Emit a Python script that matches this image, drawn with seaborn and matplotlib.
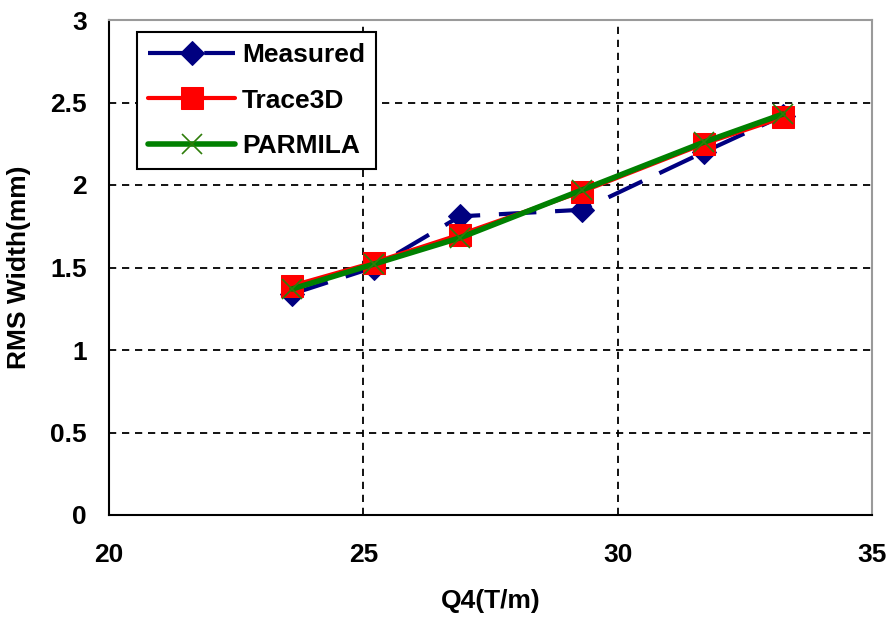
import matplotlib
matplotlib.use("Agg")
import matplotlib.pyplot as plt
import seaborn as sns
import pandas as pd

# Q4 gradient settings (T/m) and RMS beam widths (mm)
q4 = [23.6, 25.2, 26.9, 29.3, 31.7, 33.25]
measured = [1.34, 1.50, 1.81, 1.85, 2.20, 2.42]
trace3d = [1.39, 1.53, 1.70, 1.96, 2.25, 2.41]
parmila = [1.37, 1.52, 1.68, 1.97, 2.26, 2.43]

x_ticks = [20, 25, 30, 35]
y_ticks = [0, 0.5, 1, 1.5, 2, 2.5, 3]
y_tick_labels = ["0", "0.5", "1", "1.5", "2", "2.5", "3"]

sns.set_style("white")
plt.rcParams["font.family"] = ["Liberation Sans", "DejaVu Sans"]
plt.rcParams["font.weight"] = "bold"
plt.rcParams["text.color"] = "black"
plt.rcParams["axes.labelcolor"] = "black"

df = pd.DataFrame({"Q4": q4, "Measured": measured,
                   "Trace3D": trace3d, "PARMILA": parmila})

fig = plt.figure(figsize=(8.89, 6.24), dpi=100)
ax = fig.add_axes([109 / 889, 1 - 515 / 624, (872 - 109) / 889, (515 - 20) / 624])

sns.lineplot(data=df, x="Q4", y="Measured", ax=ax, color="#000080",
             linewidth=3, marker="D", markersize=12, markeredgecolor="#000080",
             label="Measured", zorder=3)
sns.lineplot(data=df, x="Q4", y="Trace3D", ax=ax, color="#FF0000",
             linewidth=3, marker="s", markersize=15.5, markeredgecolor="#FF0000",
             label="Trace3D", zorder=4)
sns.lineplot(data=df, x="Q4", y="PARMILA", ax=ax, color="#008000",
             linewidth=4, marker="x", markersize=15, markeredgewidth=1.2,
             markeredgecolor="#2E7D0A", label="PARMILA", zorder=5)

# long-dash pattern for the measured series
ax.lines[0].set_dashes([9, 4.5])
ax.lines[0].set_dash_capstyle("butt")

ax.set_xlim(20, 35)
ax.set_ylim(0, 3)
ax.set_xticks(x_ticks)
ax.set_yticks(y_ticks)
ax.set_yticklabels(y_tick_labels)
ax.tick_params(axis="both", direction="in", length=5, width=1.2, color="black",
               labelsize=19, labelcolor="black")
ax.tick_params(axis="x", pad=20)
ax.tick_params(axis="y", pad=16)

ax.grid(True, color="black", linestyle=(0, (4, 3.2)), linewidth=1.3)
ax.set_axisbelow(True)

for side in ["left", "bottom"]:
    ax.spines[side].set_color("black")
    ax.spines[side].set_linewidth(1.5)
for side in ["top", "right"]:
    ax.spines[side].set_color("#9a9a9a")
    ax.spines[side].set_linewidth(1.5)

ax.set_xlabel("Q4(T/m)", fontsize=19, fontweight="bold", labelpad=16)
ax.set_ylabel("RMS Width(mm)", fontsize=19, fontweight="bold", labelpad=14)

leg = ax.legend(loc="upper left", bbox_to_anchor=(137 / 889, 1 - 32 / 624),
                bbox_transform=fig.transFigure, fontsize=19, frameon=True,
                fancybox=False, edgecolor="black", framealpha=1,
                handlelength=3.3, handletextpad=0.25, labelspacing=0.82,
                borderpad=0.42, borderaxespad=0)
leg.get_frame().set_linewidth(1.5)
for t in leg.get_texts():
    t.set_fontweight("bold")
    t.set_color("black")

fig.savefig("out.png", dpi=100, facecolor="white")
